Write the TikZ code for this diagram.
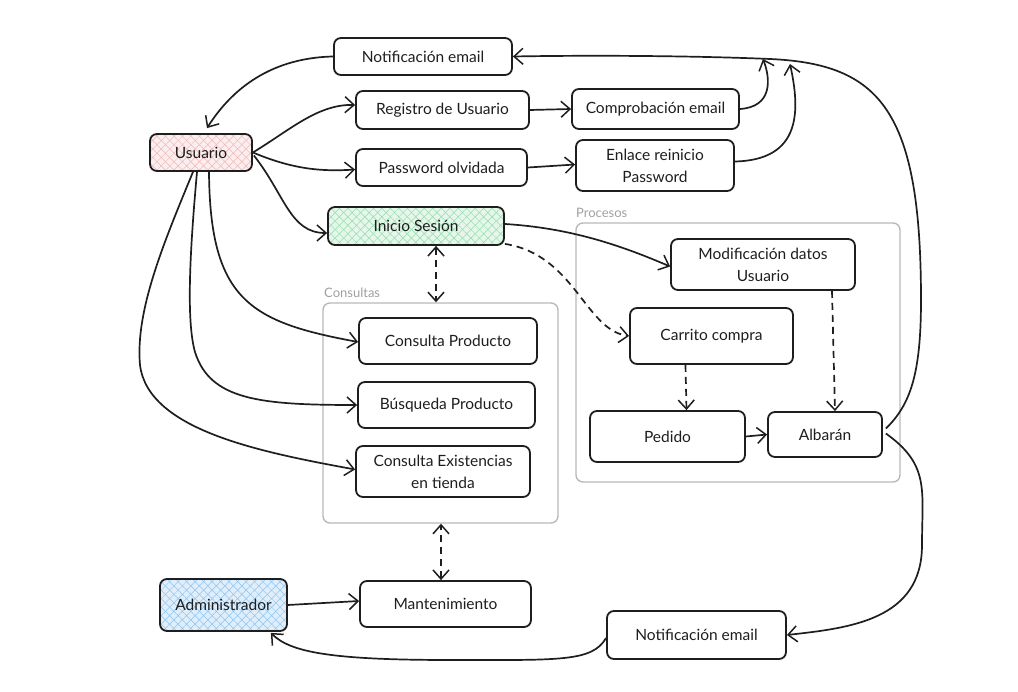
\documentclass[tikz,border=0pt]{standalone}
\usepackage{fontspec}
\setmainfont{Lato}
\usetikzlibrary{arrows.meta,patterns.meta,calc}

\definecolor{inkc}{RGB}{30,30,30}
\definecolor{framec}{RGB}{185,185,185}
\definecolor{labelc}{RGB}{160,160,160}
\definecolor{pinkbg}{RGB}{252,238,238}
\definecolor{pinkln}{RGB}{238,184,184}
\definecolor{greenbg}{RGB}{228,247,234}
\definecolor{greenln}{RGB}{150,220,170}
\definecolor{bluebg}{RGB}{224,238,251}
\definecolor{blueln}{RGB}{140,196,238}

\tikzset{
  box/.style={draw=inkc, line width=1.8pt, rounded corners=7pt, inner sep=0pt,
    align=center, font=\fontsize{15.5}{22}\selectfont, text=inkc},
  hatch/.style 2 args={
    preaction={fill=#1},
    preaction={pattern={Lines[angle=45,distance=6pt,line width=0.5pt]}, pattern color=#2},
    preaction={pattern={Lines[angle=-45,distance=6pt,line width=0.5pt]}, pattern color=#2}},
  frame/.style={draw=framec, line width=1.4pt, rounded corners=7pt, inner sep=0pt},
  framelabel/.style={anchor=south west, inner sep=0pt, text=labelc, font=\fontsize{13}{15}\selectfont},
  arr/.style={draw=inkc, line width=1.7pt, -{Straight Barb[length=9pt,width=16pt,line width=1.5pt]}},
  darr/.style={arr, dash pattern=on 7pt off 5pt},
  biarr/.style={draw=inkc, line width=1.7pt, dash pattern=on 7pt off 5pt,
    {Straight Barb[length=9pt,width=16pt,line width=1.5pt]}-{Straight Barb[length=9pt,width=16pt,line width=1.5pt]}},
}

\begin{document}
\begin{tikzpicture}[x=1pt,y=-1pt]
\useasboundingbox (0,0) rectangle (1018,692);

% group frames
\node[frame, minimum width=324pt, minimum height=259pt] (proc) at (738,352.5) {};
\node[framelabel] (proclbl) at (576,218) {Procesos};
\node[frame, minimum width=235pt, minimum height=220pt] (cons) at (440.5,413) {};
\node[framelabel] (conslbl) at (324,298) {Consultas};

% actors
\node[box, hatch={pinkbg}{pinkln}, minimum width=102pt, minimum height=37pt] (usr) at (201,152.5) {Usuario};
\node[box, hatch={bluebg}{blueln}, minimum width=127pt, minimum height=52pt] (adm) at (223.5,605) {Administrador};

% account boxes
\node[box, minimum width=178pt, minimum height=37pt] (notTop) at (423,56.5) {Notificación email};
\node[box, minimum width=173pt, minimum height=38pt] (reg) at (442.5,110) {Registro de Usuario};
\node[box, minimum width=167pt, minimum height=40pt] (cmp) at (655.5,109) {Comprobación email};
\node[box, minimum width=171pt, minimum height=37pt] (pwd) at (441.5,167.5) {Password olvidada};
\node[box, minimum width=158pt, minimum height=51pt] (enl) at (655,165.5) {Enlace reinicio\\Password};
\node[box, hatch={greenbg}{greenln}, minimum width=176pt, minimum height=38pt] (ini) at (416,226) {Inicio Sesión};

% processes
\node[box, minimum width=184pt, minimum height=51pt] (mod) at (763,264.5) {Modificación datos\\Usuario};
\node[box, minimum width=163pt, minimum height=56pt] (car) at (711.5,336) {Carrito compra};
\node[box, minimum width=155pt, minimum height=51pt] (ped) at (667.5,436.5) {Pedido};
\node[box, minimum width=114pt, minimum height=45pt] (alb) at (825,434.5) {Albarán};

% queries
\node[box, minimum width=178pt, minimum height=46pt] (conP) at (448,341) {Consulta Producto};
\node[box, minimum width=177pt, minimum height=46pt] (bus) at (446.5,405) {Búsqueda Producto};
\node[box, minimum width=174pt, minimum height=51pt] (exi) at (443,471.5) {Consulta Existencias\\en tienda};

% maintenance
\node[box, minimum width=171pt, minimum height=46pt] (man) at (445.5,604) {Mantenimiento};
\node[box, minimum width=179pt, minimum height=48pt] (notBot) at (696.5,635) {Notificación email};

% user flows
\draw[arr] (notTop.west) .. controls (265,58) and (228,95) .. ($(usr.north)+(6,-5)$);
\draw[arr] (usr.east) .. controls (290,130) and (318,104) .. ($(reg.west)+(0,-5)$);
\draw[arr] (usr.east) .. controls (290,168) and (318,172) .. ($(pwd.west)+(0,2)$);
\draw[arr] ($(usr.east)+(1,3)$) .. controls (285,195) and (290,233) .. ($(ini.west)+(0,7)$);
\draw[arr] (reg.east) -- (cmp.west);
\draw[arr] (pwd.east) -- ($(enl.west)+(0,-1)$);
\draw[arr] (cmp.east) .. controls (772,107) and (771,80) .. (763,59);
\draw[arr] ($(enl.east)+(0,-4)$) .. controls (802,160) and (800,110) .. (790,64);

% notifications
\draw[arr] ($(alb.east)+(3,-6)$) .. controls (910,405) and (921,375) .. (921,300)
  .. controls (921,110) and (880,64) .. (770,59)
  .. controls (700,56) and (600,55) .. (notTop.east);
\draw[arr] ($(alb.east)+(3,-1)$) .. controls (930,465) and (922,490) .. (922,545)
  .. controls (922,620) and (850,628) .. (notBot.east);
\draw[arr] ($(notBot.west)+(0,3)$) .. controls (592,662) and (560,660) .. (450,660)
  .. controls (330,660) and (290,652) .. ($(adm.south east)+(-17,1)$);
\draw[arr] (adm.east) -- ($(man.west)+(0,-3)$);

% session and processes
\draw[arr] ($(ini.east)+(0,-2)$) .. controls (570,228) and (620,245) .. ($(mod.west)+(0,2)$);
\draw[darr] ($(ini.south east)+(0,-2)$) .. controls (575,255) and (585,330) .. (car.west);
\draw[darr] ($(mod.south)+(69,0)$) -- ($(alb.north)+(10,0)$);
\draw[darr] ($(car.south)+(-26,0)$) -- ($(ped.north)+(19,0)$);
\draw[arr] (ped.east) -- (alb.west);
\draw[biarr] ($(ini.south)+(20,0)$) -- ($(cons.north)+(-4.5,0)$);
\draw[biarr] ($(man.north)+(-4.5,0)$) -- ($(cons.south)+(0.5,0)$);

% queries
\draw[arr] ($(usr.south)+(8,0)$) .. controls (210,300) and (250,322) .. ($(conP.west)+(0,1)$);
\draw[arr] ($(usr.south)+(-4,0)$) .. controls (190,250) and (186,320) .. (195,352)
  .. controls (210,400) and (260,405) .. (bus.west);
\draw[arr] ($(usr.south)+(-8,0)$) .. controls (165,240) and (135,310) .. (140,365)
  .. controls (148,430) and (260,452) .. ($(exi.west)+(0,-2)$);
\end{tikzpicture}
\end{document}
